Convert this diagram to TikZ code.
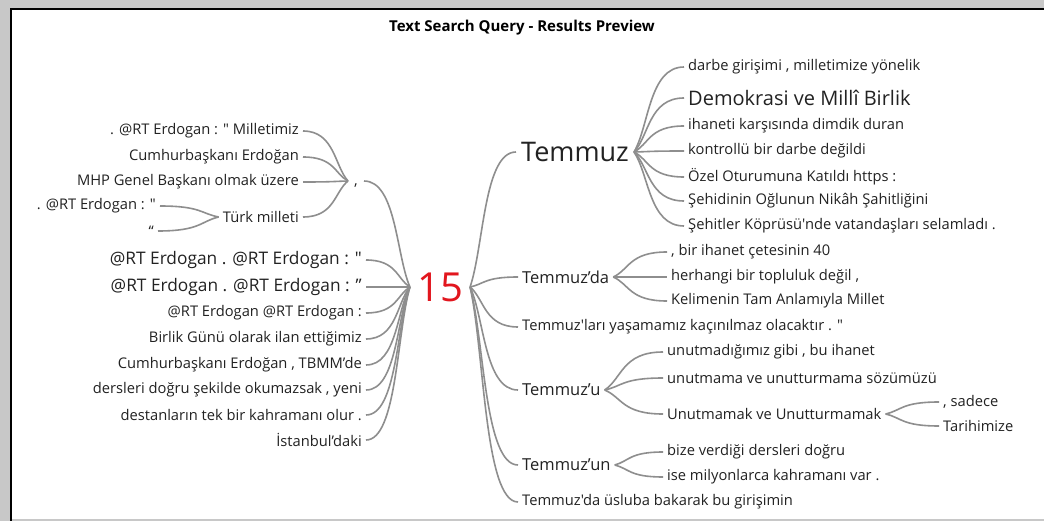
\documentclass[tikz,border=0pt]{standalone}
\usepackage{fontspec}
\setmainfont{Open Sans}[Ligatures=TeXOff]
\usetikzlibrary{calc}

\definecolor{linkgray}{HTML}{8E8E8E}
\definecolor{wordgray}{HTML}{222222}
\definecolor{hitred}{HTML}{E2161E}
\definecolor{framegray}{HTML}{C8C8C8}

\tikzset{
  link/.style={draw=linkgray, line width=1.6pt,
    to path={.. controls ($(\tikztostart)!0.3!(\tikztotarget)$)
      and ($(\tikztotarget)!0.7!(\tikztostart |- \tikztotarget)$) .. (\tikztotarget)}},
  word/.style={text=wordgray, inner sep=4pt, font=\fontsize{14.7}{16}\selectfont},
  bigword/.style={word, font=\fontsize{17.3}{19}\selectfont},
  midword/.style={word, font=\fontsize{16.5}{18}\selectfont},
  headword/.style={word, font=\fontsize{20}{22}\selectfont},
  hub/.style={word, inner xsep=5pt, font=\fontsize{27}{30}\selectfont},
  hit/.style={text=hitred, inner sep=7pt, font=\fontsize{40}{44}\selectfont},
  title/.style={text=black, font=\bfseries\fontsize{15}{17}\selectfont}
}

\begin{document}
\begin{tikzpicture}[x=1pt, y=-1pt]
    \def\lx{366}
    \def\cx{303}
    \def\rx{684}

% --------------------
% Frame
% --------------------
\useasboundingbox (0,0) rectangle (1044,521);
\fill[framegray] (0,0) rectangle (1044,521);
\fill[white] (10,8) rectangle (1044,519);
\draw[line width=1.6pt] (10.8,521) -- (10.8,8.8) -- (1044,8.8);

\node[title] (title) at (522,28) {Text Search Query - Results Preview};

% --------------------
% Root
% --------------------
\node[hit] (n15) at (440,287) {15};

% --------------------
% Left branches
% --------------------
\node[bigword, anchor=east] (l1) at (\lx,260) {@RT Erdogan . @RT Erdogan : "};
\node[bigword, anchor=east] (l2) at (\lx,287) {@RT Erdogan . @RT Erdogan : ”};
\foreach \yy/\nm/\txt in {313/l3/{@RT Erdogan @RT Erdogan :},
                          339/l4/{Birlik Günü olarak ilan ettiğimiz},
                          365/l5/{Cumhurbaşkanı Erdoğan , TBMM’de},
                          390/l6/{dersleri doğru şekilde okumazsak , yeni},
                          415/l7/{destanların tek bir kahramanı olur .},
                          440/l8/{İstanbul’daki}}{
    \node[word, anchor=east] (\nm) at (\lx,\yy) {\txt};
}
\foreach \nm in {l1,l2,l3,l4,l5,l6,l7,l8}
    \draw[link] (n15.west) to (\nm.east);

% comma branch
\node[word, inner sep=6pt, text height=12pt, text depth=2pt] (comma) at (356,181) {,};
\draw[link] (n15.west) to (comma.east);

\foreach \yy/\nm/\txt in {131/c1/{. @RT Erdogan : " Milletimiz},
                          157/c2/{Cumhurbaşkanı Erdoğan},
                          182/c3/{MHP Genel Başkanı olmak üzere},
                          217/c4/{Türk milleti}}{
    \node[word, anchor=east] (\nm) at (\cx,\yy) {\txt};
    \draw[link] (comma.west) to (\nm.east);
}

\node[word, anchor=east] (t1) at (160,206) {. @RT Erdogan : "};
\node[word, anchor=east] (t2) at (158,231) {“};
\draw[link] (c4.west) to (t1.east);
\draw[link] (c4.west) to (t2.east);

% --------------------
% Right branches
% --------------------
\node[hub, anchor=west] (temmuz) at (516,152) {Temmuz};
\node[midword, anchor=west] (temda) at (518,277) {Temmuz’da};
\node[word, anchor=west] (temlari) at (518,327) {Temmuz'ları yaşamamız kaçınılmaz olacaktır . "};
\node[midword, anchor=west] (temu) at (518,390) {Temmuz’u};
\node[midword, anchor=west] (temun) at (518,465) {Temmuz’un};
\node[word, anchor=west] (temuslup) at (518,502) {Temmuz'da üsluba bakarak bu girişimin};
\foreach \nm in {temmuz,temda,temlari,temu,temun,temuslup}
    \draw[link] (n15.east) to (\nm.west);

% Temmuz
\node[headword, anchor=west] (m2) at (\rx,98) {Demokrasi ve Millî Birlik};
\draw[link] (temmuz.east) to (m2.west);
\foreach \yy/\nm/\txt in {67/m1/{darbe girişimi , milletimize yönelik},
                          126/m3/{ihaneti karşısında dimdik duran},
                          151/m4/{kontrollü bir darbe değildi},
                          177/m5/{Özel Oturumuna Katıldı https :},
                          201/m6/{Şehidinin Oğlunun Nikâh Şahitliğini},
                          226/m7/{Şehitler Köprüsü'nde vatandaşları selamladı .}}{
    \node[word, anchor=west] (\nm) at (\rx,\yy) {\txt};
    \draw[link] (temmuz.east) to (\nm.west);
}

% Temmuz'da
\foreach \yy/\nm/\txt in {252/d1/{, bir ihanet çetesinin 40},
                          277/d2/{herhangi bir topluluk değil ,},
                          301/d3/{Kelimenin Tam Anlamıyla Millet}}{
    \node[word, anchor=west] (\nm) at (667,\yy) {\txt};
    \draw[link] (temda.east) to (\nm.west);
}

% Temmuz'u
\foreach \yy/\nm/\txt in {352/u1/{unutmadığımız gibi , bu ihanet},
                          378/u2/{unutmama ve unutturmama sözümüzü},
                          414/u3/{Unutmamak ve Unutturmamak}}{
    \node[word, anchor=west] (\nm) at (663,\yy) {\txt};
    \draw[link] (temu.east) to (\nm.west);
}
\node[word, anchor=west] (s1) at (939,402) {, sadece};
\node[word, anchor=west] (s2) at (939,426) {Tarihimize};
\draw[link] (u3.east) to (s1.west);
\draw[link] (u3.east) to (s2.west);

% Temmuz'un
\node[word, anchor=west] (k1) at (663,452) {bize verdiği dersleri doğru};
\node[word, anchor=west] (k2) at (663,477) {ise milyonlarca kahramanı var .};
\draw[link] (temun.east) to (k1.west);
\draw[link] (temun.east) to (k2.west);

\end{tikzpicture}
\end{document}
